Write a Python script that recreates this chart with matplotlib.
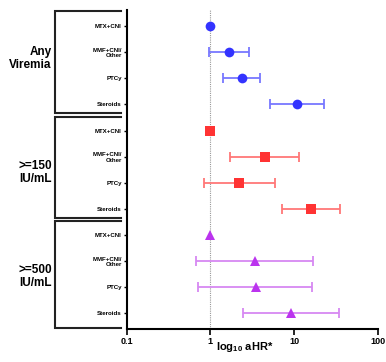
import matplotlib
matplotlib.use("Agg")
import matplotlib.pyplot as plt
import matplotlib.transforms as mtransforms
import numpy as np

plt.rcParams['font.family'] = ['Liberation Sans', 'DejaVu Sans']
plt.rcParams['mathtext.fontset'] = 'custom'
plt.rcParams['mathtext.rm'] = 'Liberation Sans:bold'
plt.rcParams['mathtext.bf'] = 'Liberation Sans:bold'
plt.rcParams['mathtext.it'] = 'Liberation Sans:bold'

treatments = ["MTX+CNI", "MMF+CNI/\nOther", "PTCy", "Steroids"]
groups = ["Any\nViremia", ">=150\nIU/mL", ">=500\nIU/mL"]

any_hr = [1.0, 1.65, 2.36, 10.7]
any_lo = [np.nan, 0.96, 1.42, 5.17]
any_hi = [np.nan, 2.91, 3.93, 22.6]

g150_hr = [1.0, 4.43, 2.19, 15.8]
g150_lo = [np.nan, 1.71, 0.83, 7.07]
g150_hi = [np.nan, 11.5, 5.89, 35.7]

g500_hr = [1.0, 3.37, 3.46, 9.2]
g500_lo = [np.nan, 0.68, 0.72, 2.47]
g500_hi = [np.nan, 16.6, 16.4, 34.4]

xticks = [0.1, 1, 10, 100]
xticklabels = ["0.1", "1", "10", "100"]

series = [
    (any_hr, any_lo, any_hi, "o", "#3333FF", "#7777FF", 7),
    (g150_hr, g150_lo, g150_hi, "s", "#FF3333", "#FF7777", 6.5),
    (g500_hr, g500_lo, g500_hi, "^", "#BB33EE", "#D788F2", 7),
]

fig = plt.figure(figsize=(3.86, 3.62), dpi=100)
ax = fig.add_axes([0.328, 0.0912, 0.651, 0.8812])
ax.set_xscale("log")

ytick_pos = []
ytick_lab = []
for gi, (hr, lo, hi, mk, col, ecol, ms) in enumerate(series):
    ys = np.arange(4) + gi * 4
    hr = np.array(hr); lo = np.array(lo); hi = np.array(hi)
    err_lo = hr - lo
    err_hi = hi - hr
    m = ~np.isnan(lo)
    ax.errorbar(hr[m], ys[m], xerr=[err_lo[m], err_hi[m]], fmt="none",
                ecolor=ecol, elinewidth=1.3, capsize=3.4, capthick=1.3, zorder=2)
    ax.plot(hr, ys, linestyle="none", marker=mk, color=col, markersize=ms,
            markeredgewidth=0, zorder=3)
    ytick_pos.extend(ys)
    ytick_lab.extend(treatments)

ax.axvline(1, color="#999999", linestyle=(0, (1, 1)), linewidth=0.8, zorder=1)

ax.set_xlim(0.1, 100)
ax.set_ylim(11.6, -0.62)
ax.set_xticks(xticks)
ax.set_xticklabels(xticklabels, fontsize=6.5, fontweight="bold")
ax.xaxis.set_minor_locator(matplotlib.ticker.NullLocator())
ax.set_yticks(ytick_pos)
ax.set_yticklabels(ytick_lab, fontsize=4.4, fontweight="bold", linespacing=1.1)
for t in ax.get_yticklabels():
    t.set_multialignment("right")
ax.tick_params(axis="x", length=4, width=1.2, pad=2)
ax.tick_params(axis="y", length=2.5, width=1.0, pad=1)

for s in ["top", "right"]:
    ax.spines[s].set_visible(False)
for s in ["left", "bottom"]:
    ax.spines[s].set_linewidth(1.5)

xl_txt = ax.set_xlabel(r"log$_{10}$ aHR*", fontsize=8, fontweight="bold")
xl_txt.set_va("center")
ax.xaxis.set_label_coords((245 - 126.7) / 251.3, -0.057)

# brackets
trans = mtransforms.blended_transform_factory(ax.transAxes, ax.transData)
xl = (55 - 126.7) / 251.3
xr = (121 - 126.7) / 251.3
brackets = [(-0.58, 3.33), (3.49, 7.34), (7.45, 11.57)]
for (y0, y1) in brackets:
    ax.plot([xr, xl, xl, xr], [y0, y0, y1, y1], color="#222222", lw=1.5,
            transform=trans, clip_on=False, solid_joinstyle="miter")

label_y = [1.23, 5.6, 9.58]
for g, yy in zip(groups, label_y):
    ax.text((52 - 126.7) / 251.3, yy, g, transform=trans, ha="right", va="center",
            fontsize=8.5, fontweight="bold", multialignment="right", linespacing=1.15)

fig.savefig("out.png", dpi=100)
